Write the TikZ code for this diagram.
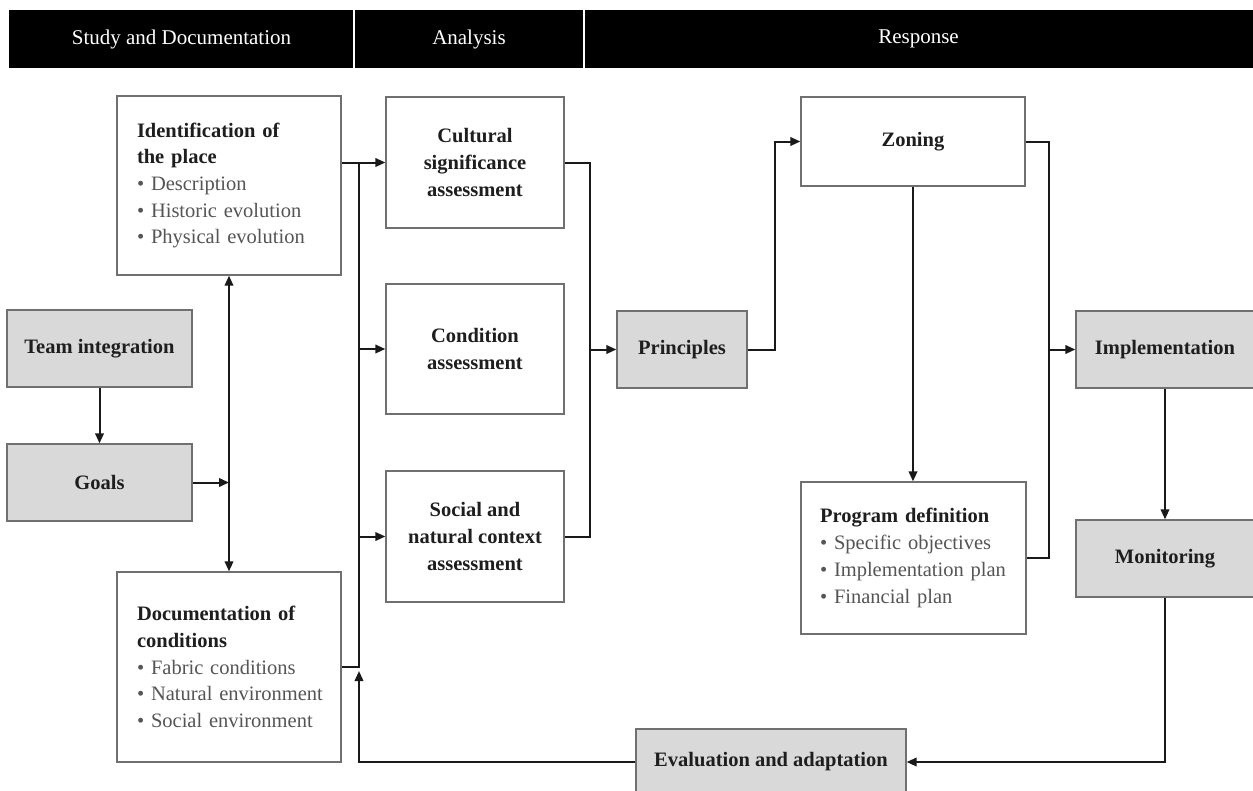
\documentclass[tikz,border=0pt]{standalone}
\usepackage{fontspec}
\setmainfont{Liberation Serif}
\usetikzlibrary{arrows.meta,calc}
\definecolor{boxgray}{HTML}{D9D9D9}
\definecolor{bordergray}{HTML}{707070}
\definecolor{txtgray}{HTML}{555555}
\definecolor{txtdark}{HTML}{1E1E1E}
\newcommand{\myfont}{\fontsize{20.5}{26.7}\selectfont}
\newcommand{\itm}[1]{\mbox{\color{txtgray}\textbullet\ #1}}
\begin{document}
\begin{tikzpicture}[x=1pt,y=-1pt,
  base/.style={draw=bordergray, line width=1.3pt, inner sep=0pt, font=\myfont, text=txtdark},
  whitebox/.style={base, fill=white},
  graybox/.style={base, fill=boxgray, font=\myfont\bfseries},
  conn/.style={draw=black!90, line width=2pt, -{Triangle[length=10pt,width=8.5pt]}},
  dconn/.style={draw=black!90, line width=2pt, {Triangle[length=10pt,width=8.5pt]}-{Triangle[length=10pt,width=8.5pt]}},
  plain/.style={draw=black!90, line width=2pt},
  hdr/.style={fill=black, text=white, inner sep=0pt, minimum height=58pt, font=\fontsize{21}{24}\selectfont},
]
\useasboundingbox[fill=white] (0,0) rectangle (1253,790);

% header
\node[hdr, minimum width=345pt] (h1) at (181.5,39) {Study and Documentation};
\node[hdr, minimum width=230pt] (h2) at (469,39) {Analysis};
\node[hdr, minimum width=669pt] (h3) at (918.5,39) {Response};
\draw[white, line width=1.5pt] (h1.north east) -- (h1.south east);
\draw[white, line width=1.5pt] (h2.north east) -- (h2.south east);

% left column
\node[whitebox, minimum width=224pt, minimum height=179pt, text width=184pt, align=left] (ident) at (229,185.5)
  {{\bfseries Identification of}\\{\bfseries the place}\\\itm{Description}\\\itm{Historic evolution}\\\itm{Physical evolution}};
\node[whitebox, minimum width=224pt, minimum height=190pt, text width=184pt, align=left] (doc) at (229,667)
  {{\bfseries Documentation of}\\{\bfseries conditions}\\\itm{Fabric conditions}\\\itm{Natural environment}\\\itm{Social environment}};
\node[graybox, minimum width=185pt, minimum height=77pt] (team) at (99.5,348.5) {Team integration};
\node[graybox, minimum width=185pt, minimum height=77pt] (goals) at (99.5,482.5) {Goals};

% analysis column
\node[whitebox, minimum width=178pt, minimum height=131pt, align=center, font=\myfont\bfseries] (cult) at (475,162.5)
  {Cultural\\significance\\assessment};
\node[whitebox, minimum width=178pt, minimum height=130pt, align=center, font=\myfont\bfseries] (cond) at (475,349)
  {Condition\\assessment};
\node[whitebox, minimum width=178pt, minimum height=131pt, align=center, font=\myfont\bfseries] (soc) at (475,536.5)
  {Social and\\natural context\\assessment};

% response
\node[graybox, minimum width=130pt, minimum height=77pt] (princ) at (682,349.5) {Principles};
\node[whitebox, minimum width=224pt, minimum height=89pt, font=\myfont\bfseries] (zon) at (913,141.5) {Zoning};
\node[whitebox, minimum width=225pt, minimum height=152pt, text width=187pt, align=left] (prog) at (913.5,558)
  {{\bfseries Program definition}\\\itm{Specific objectives}\\\itm{Implementation plan}\\\itm{Financial plan}};
\node[graybox, minimum width=178pt, minimum height=77pt] (impl) at (1165,349.5) {Implementation};
\node[graybox, minimum width=178pt, minimum height=77pt] (mon) at (1165,558.5) {Monitoring};
\node[graybox, minimum width=270pt, minimum height=66pt] (eval) at (771,762) {Evaluation and adaptation};

% bus coordinates
\coordinate (lbus) at (359,0);
\coordinate (rbus) at (590,0);
\coordinate (zbus) at (775,0);
\coordinate (ibus) at (1049,0);

% connectors
\draw[conn] (team) -- (goals);
\draw[dconn] (ident.south) -- (doc.north);
\draw[conn] (goals.east) -- (goals.east -| ident.south);
\draw[conn] (ident.east |- cult.west) -- (cult.west);
\draw[plain] (cult.west -| lbus) -- (doc.east -| lbus) -- (doc.east);
\draw[conn] (cond.west -| lbus) -- (cond.west);
\draw[conn] (soc.west -| lbus) -- (soc.west);
\draw[conn] (eval.west) -| ($(doc.east -| lbus)+(0,4)$);
\draw[plain] (cult.east) -| (soc.east -| rbus) -- (soc.east);
\draw[conn] (princ.west -| rbus) -- (princ.west);
\draw[conn] (princ.east) -| (zbus |- zon.west) -- (zon.west);
\draw[conn] (zon.south) -- (prog.north -| zon.south);
\draw[plain] (zon.east) -| (ibus |- prog.east) -- (prog.east);
\draw[conn] (impl.west -| ibus) -- (impl.west);
\draw[conn] (impl) -- (mon);
\draw[conn] (mon.south) |- (eval.east);
\end{tikzpicture}
\end{document}
